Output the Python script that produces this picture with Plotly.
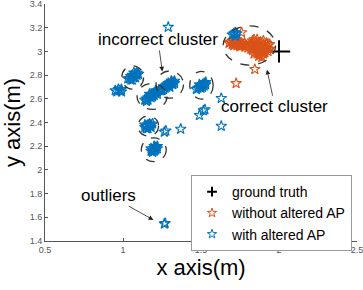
import plotly.graph_objects as go

# ---- data ----
ground_x = [2.0]
ground_y = [3.0]

orange_x = [1.68, 1.69, 1.70, 1.71, 1.72, 1.73, 1.74, 1.75, 1.76, 1.77, 1.78, 1.70, 1.72, 1.74, 1.76, 1.71, 1.73, 1.78, 1.79,
            1.80, 1.81, 1.82, 1.83, 1.84, 1.85, 1.86, 1.87, 1.88, 1.89, 1.90, 1.91, 1.92, 1.93, 1.92, 1.90, 1.88, 1.86, 1.84,
            1.83, 1.85, 1.86, 1.87, 1.88, 1.89, 1.91, 1.93, 1.94, 1.82, 1.84, 1.86, 1.88, 1.90, 1.87, 1.85, 1.89, 1.83, 1.94,
            1.76, 1.845, 1.725]
orange_y = [3.07, 3.08, 3.06, 3.08, 3.07, 3.05, 3.06, 3.04, 3.05, 3.06, 3.07, 3.09, 3.10, 3.08, 3.07, 3.05, 3.09, 3.04, 3.05,
            3.03, 3.05, 3.07, 3.09, 3.10, 3.08, 3.06, 3.04, 3.02, 3.00, 2.98, 3.01, 3.03, 3.05, 3.07, 3.06, 3.08, 3.10, 3.04,
            3.01, 3.00, 2.98, 2.96, 2.97, 3.03, 2.99, 3.00, 3.02, 3.02, 2.98, 3.02, 3.05, 3.09, 3.00, 3.05, 2.95, 3.06, 3.06,
            3.16, 2.85, 2.73]

blue_x = [1.04, 1.05, 1.06, 1.07, 1.08, 1.09, 1.10, 1.06, 1.07, 1.05, 1.08, 1.03, 1.09, 1.07,
          0.95, 0.96, 0.97, 0.98, 0.99, 0.99,
          1.14, 1.15, 1.16, 1.17, 1.18, 1.19, 1.20, 1.21, 1.22, 1.23, 1.24, 1.16, 1.18, 1.20, 1.22, 1.17, 1.19, 1.21, 1.15, 1.25,
          1.26, 1.27, 1.28, 1.29, 1.30, 1.31, 1.32, 1.33, 1.28, 1.30, 1.31, 1.29, 1.32, 1.27, 1.33, 1.25,
          1.48, 1.49, 1.50, 1.51, 1.52, 1.53, 1.50, 1.51, 1.49, 1.52, 1.53, 1.47,
          1.14, 1.15, 1.16, 1.17, 1.18, 1.19, 1.16, 1.15, 1.17, 1.18, 1.14,
          1.18, 1.19, 1.20, 1.21, 1.22, 1.19, 1.20, 1.21, 1.18, 1.22, 1.20,
          1.29, 1.265, 1.275, 1.37, 1.49, 1.515, 1.525, 1.63, 1.63, 1.265, 1.27, 1.70, 1.71, 1.72, 1.73, 1.72]
blue_y = [2.77, 2.79, 2.80, 2.78, 2.81, 2.80, 2.81, 2.76, 2.79, 2.76, 2.78, 2.77, 2.82, 2.82,
          2.67, 2.66, 2.68, 2.67, 2.66, 2.68,
          2.59, 2.60, 2.61, 2.62, 2.63, 2.64, 2.65, 2.65, 2.66, 2.67, 2.67, 2.59, 2.61, 2.63, 2.64, 2.64, 2.62, 2.67, 2.58, 2.68,
          2.68, 2.69, 2.70, 2.71, 2.72, 2.73, 2.74, 2.75, 2.72, 2.70, 2.75, 2.73, 2.72, 2.71, 2.73, 2.67,
          2.69, 2.70, 2.71, 2.72, 2.73, 2.72, 2.69, 2.70, 2.72, 2.71, 2.74, 2.68,
          2.36, 2.37, 2.38, 2.37, 2.38, 2.39, 2.35, 2.35, 2.39, 2.36, 2.38,
          2.16, 2.17, 2.18, 2.19, 2.18, 2.15, 2.16, 2.17, 2.18, 2.20, 2.20,
          3.205, 2.32, 2.33, 2.345, 2.46, 2.50, 2.51, 2.605, 2.37, 1.545, 1.55, 3.14, 3.15, 3.16, 3.15, 3.13]

# dashed ellipses: (center x, center y, radius x, radius y)
ellipse_cx = [1.062, 1.186, 1.300, 1.503, 1.162, 1.197, 1.810]
ellipse_cy = [2.780, 2.620, 2.720, 2.715, 2.370, 2.170, 3.050]
ellipse_rx = [0.070, 0.096, 0.088, 0.075, 0.066, 0.080, 0.168]
ellipse_ry = [0.099, 0.110, 0.115, 0.117, 0.085, 0.100, 0.165]

ann_text = ["incorrect cluster", "correct cluster", "outliers"]
ann_tip_x = [1.252, 1.923, 1.195]
ann_tip_y = [2.830, 2.846, 1.578]
ann_txt_x = [1.224, 1.974, 0.910]
ann_txt_y = [3.101, 2.533, 1.787]

x_ticks = [0.5, 1, 1.5, 2, 2.5]
x_tick_labels = ["0.5", "1", "1.5", "2", "2.5"]
y_ticks = [1.4, 1.6, 1.8, 2.0, 2.2, 2.4, 2.6, 2.8, 3.0, 3.2, 3.4]
y_tick_labels = ["1.4", "1.6", "1.8", "2", "2.2", "2.4", "2.6", "2.8", "3", "3.2", "3.4"]

BLUE = "#0072BD"
ORANGE = "#D95319"
FONT = "Arial, 'Liberation Sans', sans-serif"

fig = go.Figure()
# plotted marks (legend entries drawn by small proxy traces below)
fig.add_trace(go.Scatter(x=ground_x, y=ground_y, mode="markers", name="ground truth", showlegend=False,
                         marker=dict(symbol="cross-thin-open", size=16, color="black",
                                     line=dict(color="black", width=2))))
fig.add_trace(go.Scatter(x=orange_x, y=orange_y, mode="markers", name="without altered AP", showlegend=False,
                         marker=dict(symbol="star-open", size=8, color=ORANGE,
                                     line=dict(color=ORANGE, width=1.1))))
fig.add_trace(go.Scatter(x=blue_x, y=blue_y, mode="markers", name="with altered AP", showlegend=False,
                         marker=dict(symbol="star-open", size=8, color=BLUE,
                                     line=dict(color=BLUE, width=1.1))))
# legend proxies
fig.add_trace(go.Scatter(x=[None], y=[None], mode="markers", name="ground truth",
                         marker=dict(symbol="cross-thin-open", size=7, color="black",
                                     line=dict(color="black", width=2))))
fig.add_trace(go.Scatter(x=[None], y=[None], mode="markers", name="without altered AP",
                         marker=dict(symbol="star-open", size=7, color=ORANGE,
                                     line=dict(color=ORANGE, width=1))))
fig.add_trace(go.Scatter(x=[None], y=[None], mode="markers", name="with altered AP",
                         marker=dict(symbol="star-open", size=7, color=BLUE,
                                     line=dict(color=BLUE, width=1))))

shapes = []
for cx, cy, rx, ry in zip(ellipse_cx, ellipse_cy, ellipse_rx, ellipse_ry):
    shapes.append(dict(type="circle", xref="x", yref="y", x0=cx - rx, x1=cx + rx,
                       y0=cy - ry, y1=cy + ry,
                       line=dict(color="#333333", width=1.3, dash="dash")))

annotations = []
for t, tx, ty, ax, ay in zip(ann_text, ann_tip_x, ann_tip_y, ann_txt_x, ann_txt_y):
    annotations.append(dict(x=tx, y=ty, ax=ax, ay=ay, xref="x", yref="y", axref="x", ayref="y",
                            text=t, showarrow=True, arrowhead=2, arrowsize=1.2, arrowwidth=0.8,
                            arrowcolor="#222222", font=dict(family=FONT, size=17, color="black")))

fig.update_layout(
    width=363, height=290,
    margin=dict(l=45, r=6, t=4, b=49, autoexpand=False),
    plot_bgcolor="white", paper_bgcolor="white",
    shapes=shapes, annotations=annotations,
    font=dict(family=FONT, color="#262626"),
    legend=dict(x=0.468, y=0.278, xanchor="left", yanchor="top",
                bgcolor="white", bordercolor="#999999", borderwidth=1,
                font=dict(family=FONT, size=14, color="black"),
                tracegroupgap=0),
    xaxis=dict(range=[0.5, 2.5], tickvals=x_ticks, ticktext=x_tick_labels, automargin=False,
               ticklabeloverflow="allow",
               showgrid=False, zeroline=False, showline=True, linecolor="#555555", linewidth=1,
               ticks="inside", ticklen=3, tickcolor="#555555",
               tickfont=dict(size=9, color="#555555"),
               title=dict(text="x axis(m)", font=dict(size=22, color="black"), standoff=2)),
    yaxis=dict(range=[1.4, 3.4], tickvals=y_ticks, ticktext=y_tick_labels, automargin=False,
               ticklabeloverflow="allow",
               showgrid=False, zeroline=False, showline=True, linecolor="#555555", linewidth=1,
               ticks="inside", ticklen=3, tickcolor="#555555",
               tickfont=dict(size=9, color="#555555"),
               title=dict(text="y axis(m)", font=dict(size=22, color="black"), standoff=2)),
)

fig.write_html("out.html", config={"displayModeBar": False},
               post_script="document.body.style.margin='0';document.body.style.padding='0';")
